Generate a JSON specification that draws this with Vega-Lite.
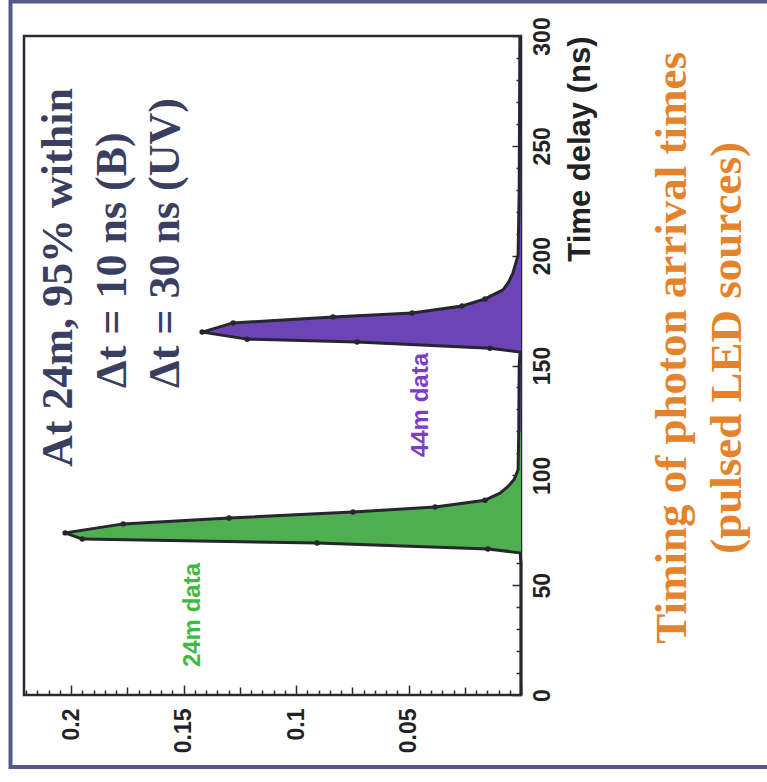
{
  "$schema": "https://vega.github.io/schema/vega-lite/v6.json",
  "width": 497,
  "height": 659,
  "autosize": {"type": "none"},
  "padding": {"left": 24, "top": 36, "right": 246, "bottom": 87},
  "background": "white",
  "config": {
    "view": {"stroke": "#2a2a36", "strokeWidth": 2.5},
    "axis": {
      "labelFont": "Liberation Sans",
      "labelFontWeight": "bold",
      "labelFontSize": 23,
      "labelColor": "#222222",
      "tickColor": "#2a2a36",
      "tickWidth": 1.5,
      "domain": false,
      "grid": false
    }
  },
  "datasets": {
    "curves": [
      {"series": "24m", "t": 0, "v": 0},
      {"series": "24m", "t": 60, "v": 0},
      {"series": "24m", "t": 64.7, "v": 0.0004},
      {"series": "24m", "t": 66.5, "v": 0.0147},
      {"series": "24m", "t": 69.2, "v": 0.0907},
      {"series": "24m", "t": 71.0, "v": 0.1951},
      {"series": "24m", "t": 73.8, "v": 0.2027},
      {"series": "24m", "t": 77.9, "v": 0.1769},
      {"series": "24m", "t": 80.6, "v": 0.1298},
      {"series": "24m", "t": 83.3, "v": 0.0747},
      {"series": "24m", "t": 85.6, "v": 0.0382},
      {"series": "24m", "t": 88.7, "v": 0.016},
      {"series": "24m", "t": 91.9, "v": 0.0093},
      {"series": "24m", "t": 95.2, "v": 0.0055},
      {"series": "24m", "t": 98.2, "v": 0.003},
      {"series": "24m", "t": 102.5, "v": 0.0013},
      {"series": "24m", "t": 120, "v": 0.001},
      {"series": "44m", "t": 120, "v": 0.001},
      {"series": "44m", "t": 150, "v": 0.0008},
      {"series": "44m", "t": 156.1, "v": 0.0004},
      {"series": "44m", "t": 157.9, "v": 0.0138},
      {"series": "44m", "t": 160.7, "v": 0.0729},
      {"series": "44m", "t": 162.0, "v": 0.1218},
      {"series": "44m", "t": 165.2, "v": 0.1418},
      {"series": "44m", "t": 169.4, "v": 0.128},
      {"series": "44m", "t": 172.1, "v": 0.0836},
      {"series": "44m", "t": 173.9, "v": 0.0484},
      {"series": "44m", "t": 177.1, "v": 0.0262},
      {"series": "44m", "t": 180.3, "v": 0.016},
      {"series": "44m", "t": 184.4, "v": 0.008},
      {"series": "44m", "t": 188.0, "v": 0.0055},
      {"series": "44m", "t": 192.1, "v": 0.0036},
      {"series": "44m", "t": 200.2, "v": 0.0013},
      {"series": "44m", "t": 230, "v": 0.0008},
      {"series": "44m", "t": 300, "v": 0.0005}
    ],
    "note": [
      {"text": "At 24m, 95% within", "v": 0.2053, "t": 103.8},
      {"text": "Δt = 10 ns (B)", "v": 0.1816, "t": 139.8},
      {"text": "Δt = 30 ns (UV)", "v": 0.1578, "t": 139.8}
    ],
    "tag24": [{"text": "24m data", "v": 0.1458, "t": 36.4}],
    "tag44": [{"text": "44m data", "v": 0.0444, "t": 132.0}],
    "caption": [
      {"text": "Timing of photon arrival times", "v": -0.0671, "t": 158.0},
      {"text": "(pulsed LED sources)", "v": -0.0916, "t": 158.0}
    ]
  },
  "layer": [
    {
      "data": {"values": [{}]},
      "mark": {"type": "rect", "filled": false, "stroke": "#555a88", "strokeWidth": 4},
      "encoding": {
        "x": {
          "datum": 0.227,
          "type": "quantitative",
          "scale": {"domain": [0, 0.221], "reverse": true, "nice": false, "zero": false},
          "axis": {
            "orient": "bottom",
            "title": null,
            "values": [0, 0.005, 0.01, 0.015, 0.02, 0.025, 0.03, 0.035, 0.04, 0.045, 0.05, 0.055, 0.06, 0.065, 0.07, 0.075, 0.08, 0.085, 0.09, 0.095, 0.1, 0.105, 0.11, 0.115, 0.12, 0.125, 0.13, 0.135, 0.14, 0.145, 0.15, 0.155, 0.16, 0.165, 0.17, 0.175, 0.18, 0.185, 0.19, 0.195, 0.2, 0.205, 0.21, 0.215, 0.22],
            "tickSize": {
              "condition": [
                {"test": "round(datum.value*1000) % 50 == 0", "value": -10},
                {"test": "round(datum.value*1000) % 25 == 0", "value": -8}
              ],
              "value": -5
            },
            "labelExpr": "round(datum.value*1000) % 50 == 0 && datum.value > 0 ? format(datum.value, '~g') : ''",
            "labelAngle": 270,
            "labelAlign": "right",
            "labelBaseline": "middle",
            "labelPadding": 23,
            "labelOverlap": false
          }
        },
        "x2": {"datum": -0.14},
        "y": {
          "datum": 315.7,
          "type": "quantitative",
          "scale": {"domain": [0, 300], "nice": false, "zero": false},
          "axis": {
            "orient": "right",
            "values": [0, 10, 20, 30, 40, 50, 60, 70, 80, 90, 100, 110, 120, 130, 140, 150, 160, 170, 180, 190, 200, 210, 220, 230, 240, 250, 260, 270, 280, 290, 300],
            "tickSize": {"condition": {"test": "datum.value % 50 == 0", "value": -9}, "value": -5},
            "labelExpr": "datum.value % 50 == 0 ? datum.label : ''",
            "labelAngle": 270,
            "labelAlign": "center",
            "labelBaseline": "top",
            "labelPadding": 19,
            "labelOverlap": false,
            "title": "Time delay (ns)",
            "titleFont": "Liberation Sans",
            "titleFontWeight": "bold",
            "titleFontSize": 31,
            "titleColor": "#222222",
            "titleAngle": 270,
            "titleAnchor": "end",
            "titleAlign": "right",
            "titleBaseline": "top",
            "titlePadding": 7
          }
        },
        "y2": {"datum": -32.8}
      }
    },
    {
      "encoding": {
        "x": {
          "field": "v",
          "type": "quantitative",
          "stack": null,
          "scale": {"domain": [0, 0.221], "reverse": true, "nice": false, "zero": false},
          "axis": {
            "orient": "bottom",
            "title": null,
            "values": [0, 0.005, 0.01, 0.015, 0.02, 0.025, 0.03, 0.035, 0.04, 0.045, 0.05, 0.055, 0.06, 0.065, 0.07, 0.075, 0.08, 0.085, 0.09, 0.095, 0.1, 0.105, 0.11, 0.115, 0.12, 0.125, 0.13, 0.135, 0.14, 0.145, 0.15, 0.155, 0.16, 0.165, 0.17, 0.175, 0.18, 0.185, 0.19, 0.195, 0.2, 0.205, 0.21, 0.215, 0.22],
            "tickSize": {
              "condition": [
                {"test": "round(datum.value*1000) % 50 == 0", "value": -10},
                {"test": "round(datum.value*1000) % 25 == 0", "value": -8}
              ],
              "value": -5
            },
            "labelExpr": "round(datum.value*1000) % 50 == 0 && datum.value > 0 ? format(datum.value, '~g') : ''",
            "labelAngle": 270,
            "labelAlign": "right",
            "labelBaseline": "middle",
            "labelPadding": 23,
            "labelOverlap": false
          }
        },
        "y": {
          "field": "t",
          "type": "quantitative",
          "scale": {"domain": [0, 300], "nice": false, "zero": false},
          "axis": {
            "orient": "right",
            "values": [0, 10, 20, 30, 40, 50, 60, 70, 80, 90, 100, 110, 120, 130, 140, 150, 160, 170, 180, 190, 200, 210, 220, 230, 240, 250, 260, 270, 280, 290, 300],
            "tickSize": {"condition": {"test": "datum.value % 50 == 0", "value": -9}, "value": -5},
            "labelExpr": "datum.value % 50 == 0 ? datum.label : ''",
            "labelAngle": 270,
            "labelAlign": "center",
            "labelBaseline": "top",
            "labelPadding": 19,
            "labelOverlap": false,
            "title": "Time delay (ns)",
            "titleFont": "Liberation Sans",
            "titleFontWeight": "bold",
            "titleFontSize": 31,
            "titleColor": "#222222",
            "titleAngle": 270,
            "titleAnchor": "end",
            "titleAlign": "right",
            "titleBaseline": "top",
            "titlePadding": 7
          }
        }
      },
      "layer": [
        {
          "data": {"name": "curves"},
          "mark": {"type": "area", "orient": "horizontal", "interpolate": "linear"},
          "encoding": {
            "color": {
              "field": "series",
              "type": "nominal",
              "scale": {"domain": ["24m", "44m"], "range": ["#4fae4f", "#6c44b6"]},
              "legend": null
            }
          }
        },
        {
          "data": {"name": "curves"},
          "mark": {"type": "line", "color": "#26262e", "strokeWidth": 3, "strokeJoin": "round"},
          "encoding": {
            "detail": {"field": "series", "type": "nominal"},
            "order": {"field": "t", "type": "quantitative"}
          }
        },
        {
          "data": {"name": "curves"},
          "transform": [{"filter": "datum.v > 0.012"}],
          "mark": {"type": "point", "filled": true, "color": "#26262e", "size": 30, "opacity": 1}
        },
        {
          "data": {"name": "note"},
          "mark": {"type": "text", "angle": 270, "align": "left", "baseline": "middle", "font": "Liberation Serif", "fontWeight": "bold", "fontSize": 44, "color": "#3a3e60"},
          "encoding": {"text": {"field": "text"}}
        },
        {
          "data": {"name": "tag24"},
          "mark": {"type": "text", "angle": 270, "align": "center", "baseline": "middle", "font": "Liberation Sans", "fontWeight": "bold", "fontSize": 24, "color": "#41b941"},
          "encoding": {"text": {"field": "text"}}
        },
        {
          "data": {"name": "tag44"},
          "mark": {"type": "text", "angle": 270, "align": "center", "baseline": "middle", "font": "Liberation Sans", "fontWeight": "bold", "fontSize": 24, "color": "#7d3cc8"},
          "encoding": {"text": {"field": "text"}}
        },
        {
          "data": {"name": "caption"},
          "mark": {"type": "text", "angle": 270, "align": "center", "baseline": "middle", "font": "Liberation Serif", "fontWeight": "bold", "fontSize": 45, "color": "#e5832c"},
          "encoding": {"text": {"field": "text"}}
        }
      ]
    }
  ]
}
